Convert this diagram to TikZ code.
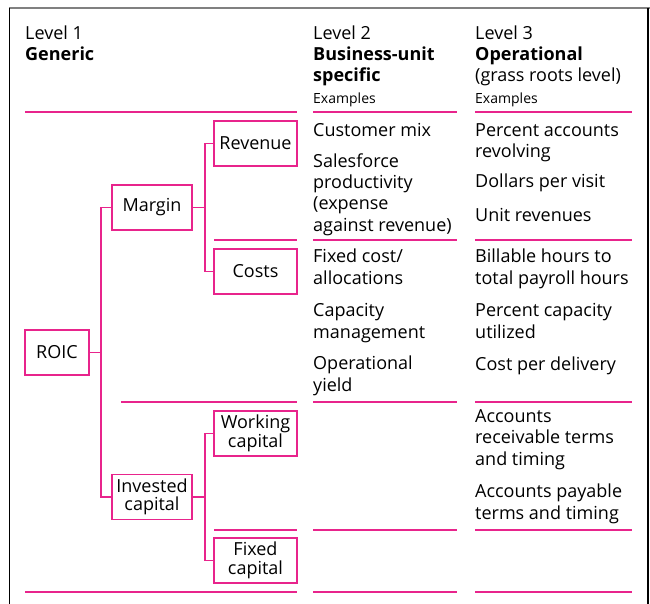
\documentclass[tikz,border=0pt]{standalone}
\usepackage{fontspec}
\setmainfont{Open Sans}
\definecolor{rule}{RGB}{232,36,140}

\begin{document}
\begin{tikzpicture}[x=1pt,y=-1pt,
  box/.style={draw=rule,line width=1.7,minimum width=83,minimum height=45,
    inner sep=1,align=center,font=\fontsize{18}{18.5}\selectfont},
  link/.style={draw=rule,line width=1.7},
  sep/.style={draw=rule,line width=1.8},
  cell/.style={anchor=base west,inner sep=0,align=left,
    font=\fontsize{18}{21.3}\selectfont},
  small/.style={anchor=base west,inner sep=0,font=\fontsize{14}{15}\selectfont}]
  \useasboundingbox (0,0) rectangle (650,604);

  \draw[gray,line width=2] (9,8) -- (650,8);
  \draw[line width=1] (9,8) -- (9,604);
  \draw[line width=1.5] (648,8) -- (648,604);

  \node[cell] (h1) at (25,61) {Level 1\\\textbf{Generic}};
  \node[cell] (h2) at (313,82) {Level 2\\\textbf{Business-unit}\\\textbf{specific}};
  \node[cell] (h3) at (475,82) {Level 3\\\textbf{Operational}\\(grass roots level)};
  \node[small] (ex2) at (313,104) {Examples};
  \node[small] (ex3) at (475,104) {Examples};

  \foreach \y/\l in {112/25,240/214,402/121,530/214,592/25} {
    \draw[sep] (\l,\y) -- (297,\y);
    \draw[sep] (313,\y) -- (457,\y);
    \draw[sep] (475,\y) -- (632,\y);
  }

  \node[box,minimum width=64] (roic) at (57,352.5) {ROIC};
  \node[box,minimum width=80] (margin) at (152,207.5) {Margin};
  \node[box,minimum width=80] (invested) at (152,497) {Invested\\capital};
  \node[box] (revenue) at (255.5,143.5) {Revenue};
  \node[box] (costs) at (255.5,271.5) {Costs};
  \node[box] (working) at (255.5,433.5) {Working\\capital};
  \node[box] (fixed) at (255.5,560.5) {Fixed\\capital};

  \draw[link] (roic.east) -- ++(11,0) |- (margin.west);
  \draw[link] (roic.east) -- ++(11,0) |- (invested.west);
  \draw[link] (margin.east) -- ++(12,0) |- (revenue.west);
  \draw[link] (margin.east) -- ++(12,0) |- (costs.west);
  \draw[link] (invested.east) -- ++(12,0) |- (working.west);
  \draw[link] (invested.east) -- ++(12,0) |- (fixed.west);

  \node[cell] (mix) at (313,137) {Customer mix};
  \node[cell] (sales) at (313,231) {Salesforce\\productivity\\(expense\\against revenue)};
  \node[cell] (alloc) at (313,284) {Fixed cost/\\allocations};
  \node[cell] (capmgmt) at (313,338) {Capacity\\management};
  \node[cell] (yield) at (313,391) {Operational\\yield};

  \node[cell] (revolv) at (475,158) {Percent accounts\\revolving};
  \node[cell] (visit) at (475,188) {Dollars per visit};
  \node[cell] (unitrev) at (475,221) {Unit revenues};
  \node[cell] (billable) at (475,284) {Billable hours to\\total payroll hours};
  \node[cell] (util) at (475,338) {Percent capacity\\utilized};
  \node[cell] (delivery) at (475,370) {Cost per delivery};
  \node[cell] (receiv) at (475,465) {Accounts\\receivable terms\\and timing};
  \node[cell] (payable) at (475,519) {Accounts payable\\terms and timing};
\end{tikzpicture}
\end{document}
